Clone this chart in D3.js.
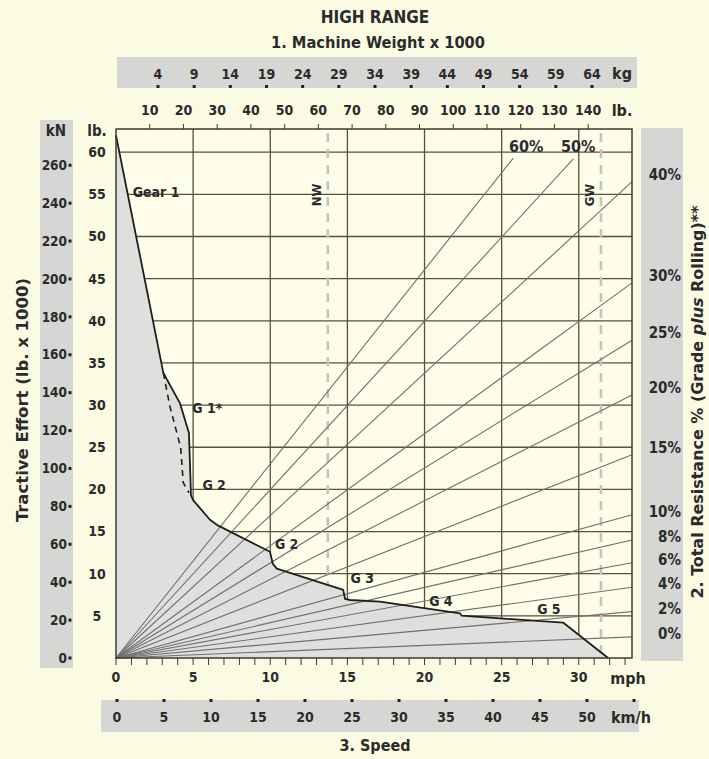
<!DOCTYPE html>
<html>
<head>
<meta charset="utf-8">
<script src="https://cdn.jsdelivr.net/npm/d3@7/dist/d3.min.js"></script>
<style>
  html, body { margin: 0; padding: 0; background: #fbfbe3; }
  svg { display: block; }
  text {
    font-family: "Liberation Sans Narrow", "Arial Narrow", "DejaVu Sans Condensed", "Liberation Sans", sans-serif;
    font-stretch: condensed;
    font-weight: bold;
    fill: #2b2b2b;
  }
</style>
</head>
<body>
<svg id="chart" width="709" height="759"></svg>
<script>
// ---- Axis ticks ----
const speedMph = [0, 5, 10, 15, 20, 25, 30];
const speedKmh = [0, 5, 10, 15, 20, 25, 30, 35, 40, 45, 50];
const speedKmhDots = [0, 5, 10, 15, 20, 25, 30, 35, 40, 45, 50, 55];
const weightLb = [10, 20, 30, 40, 50, 60, 70, 80, 90, 100, 110, 120, 130, 140];
const weightKg = [4, 9, 14, 19, 24, 29, 34, 39, 44, 49, 54, 59, 64];
const effortLb = [5, 10, 15, 20, 25, 30, 35, 40, 45, 50, 55, 60];
const effortKn = [0, 20, 40, 60, 80, 100, 120, 140, 160, 180, 200, 220, 240, 260];

// ---- Total resistance rays: end point [machine weight klb, rimpull klb] ----
const resistancePct = ["60%", "50%", "40%", "30%", "25%", "20%", "15%", "10%", "8%", "6%", "4%", "2%", "0%"];
const rayEndWeight  = [117.8, 135.6, 153, 153, 153, 153, 153, 153, 153, 153, 153, 153, 153];
const rayEndPull    = [59.3, 59.2, 56.5, 44.5, 37.7, 31.2, 24.1, 17.0, 14.0, 11.3, 8.4, 5.5, 2.5];

// ---- Rimpull curve: [speed mph, rimpull klb] ----
const rimpullCurve = [
  [0, 62.0], [3.07, 33.8], [4.15, 30.2], [4.73, 26.7], [4.86, 19.3],
  [5.01, 18.7], [6.09, 16.4], [6.63, 15.7], [9.98, 12.6], [10.16, 11.2],
  [10.42, 10.6], [14.73, 8.07], [14.85, 7.0], [15.17, 6.88], [17.11, 6.68],
  [22.3, 5.3], [22.41, 5.02], [24.9, 4.7], [29.0, 4.19], [31.9, 0]
];
// Gear 1 converter-drive alternative (dashed)
const gear1Alt = [[3.07, 33.8], [3.5, 29.8], [4.19, 25.0], [4.36, 20.8], [4.73, 19.6]];

// ---- Gear labels: [text, speed mph, rimpull klb] ----
const gearLabels = [
  ["Gear 1", 1.08, 55.3],
  ["G 1*", 4.95, 29.6],
  ["G 2", 5.6, 20.5],
  ["G 2", 10.3, 13.5],
  ["G 3", 15.2, 9.5],
  ["G 4", 20.3, 6.8],
  ["G 5", 27.3, 5.8]
];

// ---- Empty-weight / gross-weight markers (klb) ----
const weightMarks = [["NW", 62.8], ["GW", 143.8]];

const svg = d3.select("#chart");
const plot = { left: 116, right: 632, top: 129, bottom: 658 };

const x = d3.scaleLinear().domain([0, 33.45]).range([plot.left, plot.right]);
const y = d3.scaleLinear().domain([0, 62.75]).range([plot.bottom, plot.top]);
const w = d3.scaleLinear().domain([0, 153]).range([plot.left, plot.right]);
const kgX = d3.scaleLinear().domain([4, 64]).range([158, 592]);
const kmhX = d3.scaleLinear().domain([0, 55]).range([117, 634]);
const kN2klb = 0.224809;

const gridColor = "#57513f";
const rayColor = "#707070";
const tickFont = 14;

// Grey label bands
const band = "#d6d6d4";
svg.append("rect").attr("x", 117).attr("y", 57).attr("width", 520).attr("height", 31).attr("fill", band);
svg.append("rect").attr("x", 40).attr("y", 120).attr("width", 33).attr("height", 548).attr("fill", band);
svg.append("rect").attr("x", 641).attr("y", 128).attr("width", 42).attr("height", 533).attr("fill", band);
svg.append("rect").attr("x", 101).attr("y", 700).attr("width", 538).attr("height", 32).attr("fill", band);

// Plot background
svg.append("rect")
  .attr("x", plot.left).attr("y", plot.top)
  .attr("width", plot.right - plot.left).attr("height", plot.bottom - plot.top)
  .attr("fill", "#fdfdea");

// Grid
const g = svg.append("g");
g.selectAll("line.h").data(effortLb).join("line")
  .attr("x1", plot.left).attr("x2", plot.right)
  .attr("y1", d => y(d)).attr("y2", d => y(d))
  .attr("stroke", gridColor).attr("stroke-width", 1.3);
g.selectAll("line.v").data(speedMph.filter(d => d > 0)).join("line")
  .attr("x1", d => x(d)).attr("x2", d => x(d))
  .attr("y1", plot.top).attr("y2", plot.bottom)
  .attr("stroke", gridColor).attr("stroke-width", 1.3);

// NW / GW dashed markers
svg.selectAll("line.wm").data(weightMarks).join("line")
  .attr("x1", d => w(d[1])).attr("x2", d => w(d[1]))
  .attr("y1", plot.top + 4).attr("y2", plot.bottom)
  .attr("stroke", "#c4c4bc").attr("stroke-width", 2.6)
  .attr("stroke-dasharray", "9,7");

// Rimpull area
const area = d3.area().x(d => x(d[0])).y0(y(0)).y1(d => y(d[1]));
svg.append("path").datum(rimpullCurve).attr("d", area).attr("fill", "#dfdfdd");

// Resistance rays from origin
const rays = resistancePct.map((p, i) => ({ p, W: rayEndWeight[i], R: rayEndPull[i] }));
svg.selectAll("line.ray").data(rays).join("line")
  .attr("x1", w(0)).attr("y1", y(0))
  .attr("x2", d => w(d.W)).attr("y2", d => y(d.R))
  .attr("stroke", rayColor).attr("stroke-width", 1.1);

// Rimpull curve
const line = d3.line().x(d => x(d[0])).y(d => y(d[1]));
svg.append("path").datum(rimpullCurve).attr("d", line)
  .attr("fill", "none").attr("stroke", "#1e1e1e").attr("stroke-width", 1.8).attr("stroke-linejoin", "round");
svg.append("path").datum(gear1Alt).attr("d", line)
  .attr("fill", "none").attr("stroke", "#1e1e1e").attr("stroke-width", 1.6).attr("stroke-dasharray", "6,5");

// Frame
svg.append("rect")
  .attr("x", plot.left).attr("y", plot.top)
  .attr("width", plot.right - plot.left).attr("height", plot.bottom - plot.top)
  .attr("fill", "none").attr("stroke", "#3d3a30").attr("stroke-width", 1.5);

// Top weight ticks and bottom speed ticks
svg.selectAll("line.tt").data(weightLb).join("line")
  .attr("x1", d => w(d)).attr("x2", d => w(d))
  .attr("y1", plot.top).attr("y2", plot.top - 5)
  .attr("stroke", "#3d3a30").attr("stroke-width", 1);
svg.selectAll("line.bt").data(d3.range(0, 34)).join("line")
  .attr("x1", d => x(d)).attr("x2", d => x(d))
  .attr("y1", plot.bottom).attr("y2", plot.bottom + 7)
  .attr("stroke", "#3d3a30").attr("stroke-width", 1);

// Gear labels
svg.selectAll("text.gear").data(gearLabels).join("text")
  .attr("x", d => x(d[1])).attr("y", d => y(d[2]))
  .attr("dy", "0.35em")
  .attr("font-size", 14)
  .text(d => d[0]);

// NW / GW labels
svg.selectAll("text.wm").data(weightMarks).join("text")
  .attr("transform", d => `translate(${w(d[1]) - 7},195) rotate(-90)`)
  .attr("text-anchor", "middle")
  .attr("font-size", 13)
  .text(d => d[0]);

// Resistance labels
rays.forEach(d => {
  if (d.W < 150) {
    svg.append("text")
      .attr("x", w(d.W) + (d.p === "60%" ? 13 : 5)).attr("y", 146)
      .attr("dy", "0.35em").attr("text-anchor", "middle")
      .attr("font-size", 16).attr("font-weight", "normal").text(d.p);
  } else {
    const pct = parseFloat(d.p);
    svg.append("text")
      .attr("x", 681).attr("y", y(d.R) + (pct >= 15 ? -7 : -3))
      .attr("dy", "0.35em").attr("text-anchor", "end")
      .attr("font-size", 15).text(d.p);
  }
});

// Titles
svg.append("text").attr("x", 375).attr("y", 17).attr("dy", "0.35em")
  .attr("text-anchor", "middle").attr("font-size", 17).text("HIGH RANGE");
svg.append("text").attr("x", 378).attr("y", 42).attr("dy", "0.35em")
  .attr("text-anchor", "middle").attr("font-size", 16)
  .attr("textLength", 214).attr("lengthAdjust", "spacingAndGlyphs")
  .text("1. Machine Weight x 1000");

// Weight axis: kg row
svg.selectAll("text.kg").data(weightKg).join("text")
  .attr("x", d => kgX(d)).attr("y", 74).attr("dy", "0.35em")
  .attr("text-anchor", "middle").attr("font-size", tickFont).text(d => d);
svg.selectAll("rect.kgdot").data(weightKg).join("rect")
  .attr("x", d => kgX(d) - 1.5).attr("y", 85).attr("width", 3).attr("height", 3).attr("fill", "#222");
svg.append("text").attr("x", 622).attr("y", 73).attr("dy", "0.35em")
  .attr("text-anchor", "middle").attr("font-size", 16).text("kg");

// Weight axis: lb row
svg.selectAll("text.wlb").data(weightLb).join("text")
  .attr("x", d => w(d)).attr("y", 110).attr("dy", "0.35em")
  .attr("text-anchor", "middle").attr("font-size", tickFont).text(d => d);
svg.append("text").attr("x", 622).attr("y", 110).attr("dy", "0.35em")
  .attr("text-anchor", "middle").attr("font-size", 16).text("lb.");

// Tractive effort: lb and kN
svg.append("text").attr("x", 97).attr("y", 131).attr("dy", "0.35em")
  .attr("text-anchor", "middle").attr("font-size", 15).text("lb.");
svg.append("text").attr("x", 56).attr("y", 131).attr("dy", "0.35em")
  .attr("text-anchor", "middle").attr("font-size", 15).text("kN");
svg.selectAll("text.elb").data(effortLb).join("text")
  .attr("x", 97).attr("y", d => y(d)).attr("dy", "0.35em")
  .attr("text-anchor", "middle").attr("font-size", tickFont).text(d => d);
svg.selectAll("text.ekn").data(effortKn).join("text")
  .attr("x", 67).attr("y", d => y(d * kN2klb)).attr("dy", "0.35em")
  .attr("text-anchor", "end").attr("font-size", 13.5).text(d => d);
svg.selectAll("rect.kndot").data(effortKn).join("rect")
  .attr("x", 68.5).attr("y", d => y(d * kN2klb) - 1.5).attr("width", 3).attr("height", 3).attr("fill", "#222");

svg.append("text")
  .attr("transform", "translate(22,400) rotate(-90)")
  .attr("dy", "0.35em").attr("text-anchor", "middle")
  .attr("font-size", 16)
  .attr("textLength", 244).attr("lengthAdjust", "spacingAndGlyphs")
  .text("Tractive Effort (lb. x 1000)");

const rt = svg.append("text")
  .attr("transform", "translate(697,402) rotate(-90)")
  .attr("dy", "0.35em").attr("text-anchor", "middle")
  .attr("font-size", 16)
  .attr("textLength", 393).attr("lengthAdjust", "spacingAndGlyphs");
rt.append("tspan").text("2. Total Resistance % (Grade ");
rt.append("tspan").attr("font-style", "italic").text("plus");
rt.append("tspan").text(" Rolling)**");

// Speed axis: mph and km/h
svg.selectAll("text.mph").data(speedMph).join("text")
  .attr("x", d => x(d)).attr("y", 677).attr("dy", "0.35em")
  .attr("text-anchor", "middle").attr("font-size", tickFont).text(d => d);
svg.append("text").attr("x", 628).attr("y", 678).attr("dy", "0.35em")
  .attr("text-anchor", "middle").attr("font-size", 16).text("mph");
svg.selectAll("rect.kmhdot").data(speedKmhDots).join("rect")
  .attr("x", d => kmhX(d) - 1.5).attr("y", 699).attr("width", 3).attr("height", 3).attr("fill", "#222");
svg.selectAll("text.kmh").data(speedKmh).join("text")
  .attr("x", d => kmhX(d)).attr("y", 717).attr("dy", "0.35em")
  .attr("text-anchor", "middle").attr("font-size", tickFont).text(d => d);
svg.append("text").attr("x", 631).attr("y", 717).attr("dy", "0.35em")
  .attr("text-anchor", "middle").attr("font-size", 16).text("km/h");
svg.append("text").attr("x", 375).attr("y", 745).attr("dy", "0.35em")
  .attr("text-anchor", "middle").attr("font-size", 16).text("3. Speed");
</script>
</body>
</html>
